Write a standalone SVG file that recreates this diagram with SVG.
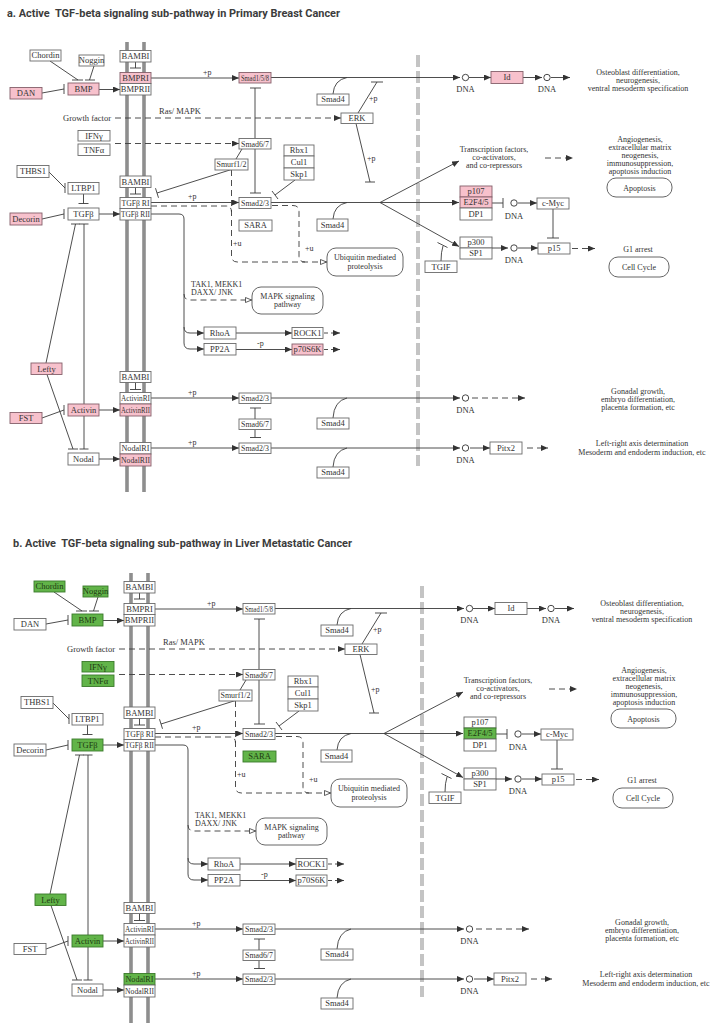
<svg xmlns="http://www.w3.org/2000/svg" xmlns:xlink="http://www.w3.org/1999/xlink" width="712" height="1028" viewBox="0 0 712 1028">
<defs>
<style>
.ttl{font-family:Roboto,"Liberation Sans",sans-serif;font-weight:700;font-size:11.5px;fill:#3c3c3c}
.n rect{fill:#fff;stroke:#6a6a6a;stroke-width:0.9}
.n text,.r text,.t{font-family:"Liberation Serif","Times New Roman",serif;fill:#333}
.n text{font-size:8.5px;text-anchor:middle}
.pk rect{fill:#f7c1cc;stroke:#85606a}
.gr rect{fill:#62b449;stroke:#3b7a2a}
.gr text{fill:#1e3a12}
.r rect{fill:#fff;stroke:#555;stroke-width:0.9}
.r text{font-size:8px;text-anchor:middle}
.t{font-size:8.5px}
.s{font-size:8px}
.m{text-anchor:middle}
.en{text-anchor:end}
.d{stroke-dasharray:6 4}
.ds{stroke-dasharray:4 3}
.ar{marker-end:url(#ah)}
.oa{marker-end:url(#oah)}
.mem{stroke:#8e8e8e;stroke-width:3.6}
.sep{stroke:#c4c4c4;stroke-width:4;stroke-dasharray:12 4}
.dna{fill:#fff;stroke:#333;stroke-width:0.9}
</style>
<marker id="ah" viewBox="0 0 7 6" refX="7" refY="3" markerWidth="7" markerHeight="6" markerUnits="userSpaceOnUse" orient="auto"><path d="M0,0L7,3L0,6z" fill="#333"/></marker>
<marker id="oah" viewBox="0 0 7 6" refX="7" refY="3" markerWidth="7" markerHeight="6" markerUnits="userSpaceOnUse" orient="auto"><path d="M0.5,0.5L6.5,3L0.5,5.5z" fill="#fff" stroke="#333" stroke-width="0.8"/></marker>
</defs>
<rect width="712" height="1028" fill="#fff"/>

<text class="ttl" x="7" y="17" xml:space="preserve" textLength="333" lengthAdjust="spacingAndGlyphs">a. Active  TGF-beta signaling sub-pathway in Primary Breast Cancer</text>
<text class="ttl" x="13" y="547" xml:space="preserve" textLength="339" lengthAdjust="spacingAndGlyphs">b. Active  TGF-beta signaling sub-pathway in Liver Metastatic Cancer</text>

<g id="panel-a-bg">
<g id="membrane"><line class="mem" x1="127" y1="42" x2="127" y2="492"/><line class="mem" x1="144" y1="42" x2="144" y2="492"/></g>
<line id="nucleus-border" class="sep" x1="418" y1="55" x2="418" y2="466"/>
<g id="connectors" fill="none" stroke="#3a3a3a" stroke-width="0.9">
<path d="M42,93L64,89M64,84V94"/>
<path d="M50,61L78,80M72,80H83"/>
<path d="M94,66L89.5,80M85,80H95"/>
<path class="ar" d="M99,89.5H120"/>
<path d="M135.5,62V68M130,68H141"/>
<path class="ar" d="M151,78H239"/>
<path class="d ar" d="M115,118H341"/>
<path class="d ar" d="M115,143.5H239"/>
<path d="M255,138.5V88M250,88H261"/>
<path d="M255,149V193M250,193H261"/>
<path d="M236,159L242,149"/>
<path d="M233,169L157,193M155.5,188.2L158.5,197.8"/>
<path class="ar" d="M271,77.5H460"/>
<path d="M333,94Q334,80 347,77.5"/>
<path d="M358,113L377,82M371,82H383"/>
<path d="M356,123.5L370,182M365,182H375"/>
<path d="M295,180L275,195M272,191L278,199"/>
<path d="M49,172L65,188M65,183V193"/>
<path d="M83.5,194V203.5M78.5,203.5H88.5"/>
<path d="M42,219L64,214M64,209V219"/>
<path class="ar" d="M99,214H120"/>
<path d="M135.5,187.5V194M130,194H141"/>
<path class="ar" d="M151,202.5H239"/>
<path class="d" d="M151,206H226Q231.5,206 231.5,212"/>
<path class="d oa" d="M231.5,170V256Q231.5,262 237.5,262H327"/>
<path class="d" d="M272,205.5H293Q299,205.5 299,211.5V256Q299,262 305,262"/>
<path class="ar" d="M151,214H179Q184,214 184,219V343Q184,349 190,349H204"/>
<path class="ar" d="M184,327Q184,333 190,333H204"/>
<path class="d oa" d="M184,294Q184,300 190,300H252"/>
<path class="ar" d="M236,333H292"/>
<path class="ar" d="M236,349.5H292"/>
<path class="ds ar" d="M324,333H340"/>
<path class="ds ar" d="M324,349.5H340"/>
<path class="ar" d="M271,202.5H459"/>
<path class="ar" d="M380,202.5L459,161"/>
<path class="ar" d="M380,202.5L459,246.5"/>
<path d="M333,219Q334,205 347,202.5"/>
<path d="M441,261Q441,252 443,246M437.5,242.5L447.5,247.5"/>
<path d="M492,203H503M503,198V208"/>
<path class="ar" d="M518,203H537"/>
<path d="M553,209V238M547,238H559"/>
<path class="ar" d="M492,248H508"/>
<path class="ar" d="M518,248H538"/>
<path class="d ar" d="M572,248.5H595"/>
<path class="d ar" d="M545,158H573"/>
<path class="ar" d="M469,77.5H491"/>
<path class="ar" d="M523,77.5H542"/>
<path class="ar" d="M551,77.5H570"/>
<path d="M75.5,224L46,363M71,224H80"/>
<path d="M84,224V449M79.5,224H88.5M79.5,449H88.5"/>
<path d="M47,374.5L73,449M68,449H78"/>
<path d="M42,418L64,410M64,405V415"/>
<path class="ar" d="M99,410H120"/>
<path class="ar" d="M99,459H120"/>
<path d="M135.5,382.5V389.5M130,389.5H141"/>
<path class="ar" d="M151,398H239"/>
<path class="ar" d="M151,448H239"/>
<path d="M255,419V408M250,408H261"/>
<path d="M255,429.5V437.5M250,437.5H261"/>
<path class="ar" d="M271,398H460"/>
<path class="d ar" d="M472,398H525"/>
<path class="ar" d="M271,448H460"/>
<path class="ar" d="M470,448H490"/>
<path class="d ar" d="M527,448H548"/>
<path d="M333,418Q334,401 347,398"/>
<path d="M333,467Q334,451 347,448"/>
<circle class="dna" cx="465.5" cy="77.5" r="3.2"/>
<circle class="dna" cx="547" cy="77.5" r="3.2"/>
<circle class="dna" cx="514" cy="203" r="3.2"/>
<circle class="dna" cx="514" cy="248" r="3.2"/>
<circle class="dna" cx="465.5" cy="398" r="3.2"/>
<circle class="dna" cx="465.5" cy="448" r="3.2"/>
</g>
<g id="labels" class="t">
<text class="en" x="111" y="121">Growth factor</text>
<text x="159" y="114">Ras/ MAPK</text>
<text class="s" x="203" y="75">+p</text>
<text class="s" x="188" y="199">+p</text>
<text class="s" x="188" y="395">+p</text>
<text class="s" x="188" y="445">+p</text>
<text class="s" x="369" y="101">+p</text>
<text class="s" x="367" y="161">+p</text>
<text class="s" x="233" y="246">+u</text>
<text class="s" x="305" y="251">+u</text>
<text class="s" x="257" y="346">-p</text>
<text class="s" x="191" y="286.5">TAK1, MEKK1</text>
<text class="s" x="191" y="294.5">DAXX/ JNK</text>
<text class="m" x="465.5" y="91.5">DNA</text>
<text class="m" x="547" y="91.5">DNA</text>
<text class="m" x="514" y="218.5">DNA</text>
<text class="m" x="514" y="262.5">DNA</text>
<text class="m" x="465.5" y="413">DNA</text>
<text class="m" x="465.5" y="462.5">DNA</text>
<g class="s m">
<text x="638" y="75">Osteoblast differentiation,</text>
<text x="638" y="83">neurogenesis,</text>
<text x="638" y="91">ventral mesoderm specification</text>
<text x="494" y="152">Transcription factors,</text>
<text x="494" y="160">co-activators,</text>
<text x="494" y="168">and co-repressors</text>
<text x="640" y="141.5">Angiogenesis,</text>
<text x="640" y="149.5">extracellular matrix</text>
<text x="640" y="157.5">neogenesis,</text>
<text x="640" y="165.5">immunosuppression,</text>
<text x="640" y="173.5">apoptosis induction</text>
<text x="638" y="252">G1 arrest</text>
<text x="638" y="393.5">Gonadal growth,</text>
<text x="638" y="401.5">embryo differentiation,</text>
<text x="638" y="409.5">placenta formation, etc</text>
<text x="642" y="446">Left-right axis determination</text>
<text x="642" y="454.5">Mesoderm and endoderm induction, etc</text>
</g>
</g>
</g>

<g id="panel-a-nodes">
<g id="a-chordin" class="n"><rect x="30" y="50" width="31" height="11"/><text x="45.5" y="58.3">Chordin</text></g>
<g id="a-noggin" class="n"><rect x="79" y="55" width="25" height="11"/><text x="91.5" y="63.3">Noggin</text></g>
<g id="a-bmp" class="n pk"><rect x="68" y="83" width="31" height="12"/><text x="83.5" y="91.8">BMP</text></g>
<g id="a-dan" class="n pk"><rect x="10" y="87.5" width="32" height="11.5"/><text x="26" y="96">DAN</text></g>
<g id="a-bambi1" class="n"><rect x="120" y="50.5" width="31" height="11.5"/><text x="135.5" y="59">BAMBI</text></g>
<g id="a-bmpri" class="n pk"><rect x="120" y="72.5" width="31" height="11"/><text x="135.5" y="80.8">BMPRI</text></g>
<g id="a-bmprii" class="n"><rect x="120" y="83.5" width="31" height="11.5"/><text x="135.5" y="92">BMPRII</text></g>
<g id="a-smad158" class="n pk"><rect x="239" y="72.5" width="32" height="10.5"/><text x="255" y="80.5" textLength="28" lengthAdjust="spacingAndGlyphs">Smad1/5/8</text></g>
<g id="a-smad4-1" class="n"><rect x="317" y="94" width="32" height="11"/><text x="333" y="102.3">Smad4</text></g>
<g id="a-erk" class="n"><rect x="341" y="113" width="32" height="10.5"/><text x="357" y="121">ERK</text></g>
<g id="a-ifng" class="n"><rect x="78" y="130.5" width="32" height="10.5"/><text x="94" y="138.5">IFNγ</text></g>
<g id="a-tnfa" class="n"><rect x="78" y="144" width="32" height="11.5"/><text x="94" y="152.5">TNFα</text></g>
<g id="a-smad67-1" class="n"><rect x="239" y="138.5" width="32" height="10.5"/><text x="255" y="146.5" textLength="28" lengthAdjust="spacingAndGlyphs">Smad6/7</text></g>
<g id="a-smurf" class="n"><rect x="215" y="159" width="33" height="11"/><text x="231.5" y="167.3" textLength="30" lengthAdjust="spacingAndGlyphs">Smurf1/2</text></g>
<g id="a-rbx1" class="n"><rect x="284" y="145" width="30" height="11"/><text x="299" y="153.3">Rbx1</text></g>
<g id="a-cul1" class="n"><rect x="284" y="156" width="30" height="12"/><text x="299" y="164.8">Cul1</text></g>
<g id="a-skp1" class="n"><rect x="284" y="168" width="30" height="12"/><text x="299" y="176.8">Skp1</text></g>
<g id="a-thbs1" class="n"><rect x="17" y="165.5" width="32" height="12"/><text x="33" y="174.3">THBS1</text></g>
<g id="a-ltbp1" class="n"><rect x="68" y="182.5" width="31" height="11.5"/><text x="83.5" y="191">LTBP1</text></g>
<g id="a-bambi2" class="n"><rect x="120" y="176" width="31" height="11.5"/><text x="135.5" y="184.5">BAMBI</text></g>
<g id="a-tgfbri" class="n"><rect x="120" y="197.5" width="31" height="11"/><text x="135.5" y="205.8" textLength="28" lengthAdjust="spacingAndGlyphs">TGFβ RI</text></g>
<g id="a-tgfbrii" class="n"><rect x="120" y="208.5" width="31" height="11.5"/><text x="135.5" y="217" textLength="29" lengthAdjust="spacingAndGlyphs">TGFβ RII</text></g>
<g id="a-tgfb" class="n"><rect x="68" y="208" width="31" height="12"/><text x="83.5" y="216.8">TGFβ</text></g>
<g id="a-decorin" class="n pk"><rect x="10" y="213" width="32" height="12"/><text x="26" y="221.8">Decorin</text></g>
<g id="a-smad23-1" class="n"><rect x="239" y="197.5" width="32" height="11"/><text x="255" y="205.8" textLength="28" lengthAdjust="spacingAndGlyphs">Smad2/3</text></g>
<g id="a-sara" class="n"><rect x="239" y="220" width="33" height="11"/><text x="255.5" y="228.3">SARA</text></g>
<g id="a-smad4-2" class="n"><rect x="317" y="219" width="31" height="12"/><text x="332.5" y="227.8">Smad4</text></g>
<g id="a-tgif" class="n"><rect x="425" y="261" width="32" height="11.5"/><text x="441" y="269.5">TGIF</text></g>
<g id="a-p107" class="n pk"><rect x="460" y="186" width="32" height="11"/><text x="476" y="194.3">p107</text></g>
<g id="a-e2f45" class="n pk"><rect x="460" y="197" width="32" height="11"/><text x="476" y="205.3">E2F4/5</text></g>
<g id="a-dp1" class="n"><rect x="460" y="208" width="32" height="12"/><text x="476" y="216.8">DP1</text></g>
<g id="a-cmyc" class="n"><rect x="537" y="198" width="32" height="11"/><text x="553" y="206.3">c-Myc</text></g>
<g id="a-p300" class="n"><rect x="460" y="237" width="32" height="11"/><text x="476" y="245.3">p300</text></g>
<g id="a-sp1" class="n"><rect x="460" y="248" width="32" height="11"/><text x="476" y="256.3">SP1</text></g>
<g id="a-p15" class="n"><rect x="538" y="243" width="32" height="11"/><text x="554" y="251.3">p15</text></g>
<g id="a-id" class="n pk"><rect x="491" y="71.5" width="32" height="12"/><text x="507" y="80.3">Id</text></g>
<g id="a-rhoa" class="n"><rect x="204" y="327" width="32" height="12"/><text x="220" y="335.8">RhoA</text></g>
<g id="a-pp2a" class="n"><rect x="204" y="343.5" width="32" height="11.5"/><text x="220" y="352">PP2A</text></g>
<g id="a-rock1" class="n"><rect x="292" y="327.5" width="31" height="11"/><text x="307.5" y="335.8">ROCK1</text></g>
<g id="a-p70s6k" class="n pk"><rect x="292" y="344" width="31" height="11"/><text x="307.5" y="352.3">p70S6K</text></g>
<g id="a-lefty" class="n pk"><rect x="31" y="363" width="31" height="11.5"/><text x="46.5" y="371.5">Lefty</text></g>
<g id="a-bambi3" class="n"><rect x="120" y="371.5" width="31" height="11"/><text x="135.5" y="379.8">BAMBI</text></g>
<g id="a-activinri" class="n"><rect x="120" y="392.5" width="31" height="11.5"/><text x="135.5" y="401" textLength="29" lengthAdjust="spacingAndGlyphs">ActivinRI</text></g>
<g id="a-activinrii" class="n pk"><rect x="120" y="404" width="31" height="12"/><text x="135.5" y="412.8" textLength="29" lengthAdjust="spacingAndGlyphs">ActivinRII</text></g>
<g id="a-activin" class="n pk"><rect x="68" y="404" width="31" height="12"/><text x="83.5" y="412.8">Activin</text></g>
<g id="a-fst" class="n pk"><rect x="10" y="412.5" width="32" height="11"/><text x="26" y="420.8">FST</text></g>
<g id="a-nodalri" class="n"><rect x="120" y="442.5" width="31" height="11.5"/><text x="135.5" y="451" textLength="28" lengthAdjust="spacingAndGlyphs">NodalRI</text></g>
<g id="a-nodalrii" class="n pk"><rect x="120" y="454" width="31" height="12"/><text x="135.5" y="462.8" textLength="29" lengthAdjust="spacingAndGlyphs">NodalRII</text></g>
<g id="a-nodal" class="n"><rect x="68" y="453" width="31" height="12"/><text x="83.5" y="461.8">Nodal</text></g>
<g id="a-smad23-2" class="n"><rect x="239" y="393" width="32" height="10.5"/><text x="255" y="401" textLength="28" lengthAdjust="spacingAndGlyphs">Smad2/3</text></g>
<g id="a-smad67-2" class="n"><rect x="239" y="419" width="32" height="10.5"/><text x="255" y="427" textLength="28" lengthAdjust="spacingAndGlyphs">Smad6/7</text></g>
<g id="a-smad23-3" class="n"><rect x="239" y="443" width="32" height="10.5"/><text x="255" y="451" textLength="28" lengthAdjust="spacingAndGlyphs">Smad2/3</text></g>
<g id="a-smad4-3" class="n"><rect x="317" y="418" width="32" height="11"/><text x="333" y="426.3">Smad4</text></g>
<g id="a-smad4-4" class="n"><rect x="317" y="467" width="32" height="11"/><text x="333" y="475.3">Smad4</text></g>
<g id="a-pitx2" class="n"><rect x="490" y="442" width="32" height="12"/><text x="506" y="450.8">Pitx2</text></g>
<g id="a-ubiquitin" class="r"><rect x="327" y="248" width="76" height="28" rx="9"/><text x="365" y="259.5">Ubiquitin mediated</text><text x="365" y="268.5">proteolysis</text></g>
<g id="a-mapk" class="r"><rect x="252" y="287" width="71" height="27" rx="9"/><text x="287.5" y="298.5">MAPK signaling</text><text x="287.5" y="307">pathway</text></g>
<g id="a-apoptosis" class="r"><rect x="607" y="178" width="65" height="19" rx="9"/><text x="639.5" y="190.5">Apoptosis</text></g>
<g id="a-cellcycle" class="r"><rect x="609" y="257" width="60" height="20" rx="9"/><text x="639" y="269.5">Cell Cycle</text></g>
</g>

<g id="panel-b" transform="translate(4,531)">
<use href="#panel-a-bg" xlink:href="#panel-a-bg"/>
<g id="panel-b-nodes">
<g id="b-chordin" class="n gr"><rect x="30" y="50" width="31" height="11"/><text x="45.5" y="58.3">Chordin</text></g>
<g id="b-noggin" class="n gr"><rect x="79" y="55" width="25" height="11"/><text x="91.5" y="63.3">Noggin</text></g>
<g id="b-bmp" class="n gr"><rect x="68" y="83" width="31" height="12"/><text x="83.5" y="91.8">BMP</text></g>
<g id="b-dan" class="n"><rect x="10" y="87.5" width="32" height="11.5"/><text x="26" y="96">DAN</text></g>
<g id="b-bambi1" class="n"><rect x="120" y="50.5" width="31" height="11.5"/><text x="135.5" y="59">BAMBI</text></g>
<g id="b-bmpri" class="n"><rect x="120" y="72.5" width="31" height="11"/><text x="135.5" y="80.8">BMPRI</text></g>
<g id="b-bmprii" class="n"><rect x="120" y="83.5" width="31" height="11.5"/><text x="135.5" y="92">BMPRII</text></g>
<g id="b-smad158" class="n"><rect x="239" y="72.5" width="32" height="10.5"/><text x="255" y="80.5" textLength="28" lengthAdjust="spacingAndGlyphs">Smad1/5/8</text></g>
<g id="b-smad4-1" class="n"><rect x="317" y="94" width="32" height="11"/><text x="333" y="102.3">Smad4</text></g>
<g id="b-erk" class="n"><rect x="341" y="113" width="32" height="10.5"/><text x="357" y="121">ERK</text></g>
<g id="b-ifng" class="n gr"><rect x="78" y="130.5" width="32" height="10.5"/><text x="94" y="138.5">IFNγ</text></g>
<g id="b-tnfa" class="n gr"><rect x="78" y="144" width="32" height="11.5"/><text x="94" y="152.5">TNFα</text></g>
<g id="b-smad67-1" class="n"><rect x="239" y="138.5" width="32" height="10.5"/><text x="255" y="146.5" textLength="28" lengthAdjust="spacingAndGlyphs">Smad6/7</text></g>
<g id="b-smurf" class="n"><rect x="215" y="159" width="33" height="11"/><text x="231.5" y="167.3" textLength="30" lengthAdjust="spacingAndGlyphs">Smurf1/2</text></g>
<g id="b-rbx1" class="n"><rect x="284" y="145" width="30" height="11"/><text x="299" y="153.3">Rbx1</text></g>
<g id="b-cul1" class="n"><rect x="284" y="156" width="30" height="12"/><text x="299" y="164.8">Cul1</text></g>
<g id="b-skp1" class="n"><rect x="284" y="168" width="30" height="12"/><text x="299" y="176.8">Skp1</text></g>
<g id="b-thbs1" class="n"><rect x="17" y="165.5" width="32" height="12"/><text x="33" y="174.3">THBS1</text></g>
<g id="b-ltbp1" class="n"><rect x="68" y="182.5" width="31" height="11.5"/><text x="83.5" y="191">LTBP1</text></g>
<g id="b-bambi2" class="n"><rect x="120" y="176" width="31" height="11.5"/><text x="135.5" y="184.5">BAMBI</text></g>
<g id="b-tgfbri" class="n"><rect x="120" y="197.5" width="31" height="11"/><text x="135.5" y="205.8" textLength="28" lengthAdjust="spacingAndGlyphs">TGFβ RI</text></g>
<g id="b-tgfbrii" class="n"><rect x="120" y="208.5" width="31" height="11.5"/><text x="135.5" y="217" textLength="29" lengthAdjust="spacingAndGlyphs">TGFβ RII</text></g>
<g id="b-tgfb" class="n gr"><rect x="68" y="208" width="31" height="12"/><text x="83.5" y="216.8">TGFβ</text></g>
<g id="b-decorin" class="n"><rect x="10" y="213" width="32" height="12"/><text x="26" y="221.8">Decorin</text></g>
<g id="b-smad23-1" class="n"><rect x="239" y="197.5" width="32" height="11"/><text x="255" y="205.8" textLength="28" lengthAdjust="spacingAndGlyphs">Smad2/3</text></g>
<g id="b-sara" class="n gr"><rect x="239" y="220" width="33" height="11"/><text x="255.5" y="228.3">SARA</text></g>
<g id="b-smad4-2" class="n"><rect x="317" y="219" width="31" height="12"/><text x="332.5" y="227.8">Smad4</text></g>
<g id="b-tgif" class="n"><rect x="425" y="261" width="32" height="11.5"/><text x="441" y="269.5">TGIF</text></g>
<g id="b-p107" class="n"><rect x="460" y="186" width="32" height="11"/><text x="476" y="194.3">p107</text></g>
<g id="b-e2f45" class="n gr"><rect x="460" y="197" width="32" height="11"/><text x="476" y="205.3">E2F4/5</text></g>
<g id="b-dp1" class="n"><rect x="460" y="208" width="32" height="12"/><text x="476" y="216.8">DP1</text></g>
<g id="b-cmyc" class="n"><rect x="537" y="198" width="32" height="11"/><text x="553" y="206.3">c-Myc</text></g>
<g id="b-p300" class="n"><rect x="460" y="237" width="32" height="11"/><text x="476" y="245.3">p300</text></g>
<g id="b-sp1" class="n"><rect x="460" y="248" width="32" height="11"/><text x="476" y="256.3">SP1</text></g>
<g id="b-p15" class="n"><rect x="538" y="243" width="32" height="11"/><text x="554" y="251.3">p15</text></g>
<g id="b-id" class="n"><rect x="491" y="71.5" width="32" height="12"/><text x="507" y="80.3">Id</text></g>
<g id="b-rhoa" class="n"><rect x="204" y="327" width="32" height="12"/><text x="220" y="335.8">RhoA</text></g>
<g id="b-pp2a" class="n"><rect x="204" y="343.5" width="32" height="11.5"/><text x="220" y="352">PP2A</text></g>
<g id="b-rock1" class="n"><rect x="292" y="327.5" width="31" height="11"/><text x="307.5" y="335.8">ROCK1</text></g>
<g id="b-p70s6k" class="n"><rect x="292" y="344" width="31" height="11"/><text x="307.5" y="352.3">p70S6K</text></g>
<g id="b-lefty" class="n gr"><rect x="31" y="363" width="31" height="11.5"/><text x="46.5" y="371.5">Lefty</text></g>
<g id="b-bambi3" class="n"><rect x="120" y="371.5" width="31" height="11"/><text x="135.5" y="379.8">BAMBI</text></g>
<g id="b-activinri" class="n"><rect x="120" y="392.5" width="31" height="11.5"/><text x="135.5" y="401" textLength="29" lengthAdjust="spacingAndGlyphs">ActivinRI</text></g>
<g id="b-activinrii" class="n"><rect x="120" y="404" width="31" height="12"/><text x="135.5" y="412.8" textLength="29" lengthAdjust="spacingAndGlyphs">ActivinRII</text></g>
<g id="b-activin" class="n gr"><rect x="68" y="404" width="31" height="12"/><text x="83.5" y="412.8">Activin</text></g>
<g id="b-fst" class="n"><rect x="10" y="412.5" width="32" height="11"/><text x="26" y="420.8">FST</text></g>
<g id="b-nodalri" class="n gr"><rect x="120" y="442.5" width="31" height="11.5"/><text x="135.5" y="451" textLength="28" lengthAdjust="spacingAndGlyphs">NodalRI</text></g>
<g id="b-nodalrii" class="n"><rect x="120" y="454" width="31" height="12"/><text x="135.5" y="462.8" textLength="29" lengthAdjust="spacingAndGlyphs">NodalRII</text></g>
<g id="b-nodal" class="n"><rect x="68" y="453" width="31" height="12"/><text x="83.5" y="461.8">Nodal</text></g>
<g id="b-smad23-2" class="n"><rect x="239" y="393" width="32" height="10.5"/><text x="255" y="401" textLength="28" lengthAdjust="spacingAndGlyphs">Smad2/3</text></g>
<g id="b-smad67-2" class="n"><rect x="239" y="419" width="32" height="10.5"/><text x="255" y="427" textLength="28" lengthAdjust="spacingAndGlyphs">Smad6/7</text></g>
<g id="b-smad23-3" class="n"><rect x="239" y="443" width="32" height="10.5"/><text x="255" y="451" textLength="28" lengthAdjust="spacingAndGlyphs">Smad2/3</text></g>
<g id="b-smad4-3" class="n"><rect x="317" y="418" width="32" height="11"/><text x="333" y="426.3">Smad4</text></g>
<g id="b-smad4-4" class="n"><rect x="317" y="467" width="32" height="11"/><text x="333" y="475.3">Smad4</text></g>
<g id="b-pitx2" class="n"><rect x="490" y="442" width="32" height="12"/><text x="506" y="450.8">Pitx2</text></g>
<g id="b-ubiquitin" class="r"><rect x="327" y="248" width="76" height="28" rx="9"/><text x="365" y="259.5">Ubiquitin mediated</text><text x="365" y="268.5">proteolysis</text></g>
<g id="b-mapk" class="r"><rect x="252" y="287" width="71" height="27" rx="9"/><text x="287.5" y="298.5">MAPK signaling</text><text x="287.5" y="307">pathway</text></g>
<g id="b-apoptosis" class="r"><rect x="607" y="178" width="65" height="19" rx="9"/><text x="639.5" y="190.5">Apoptosis</text></g>
<g id="b-cellcycle" class="r"><rect x="609" y="257" width="60" height="20" rx="9"/><text x="639" y="269.5">Cell Cycle</text></g>
</g>
</g>
</svg>
